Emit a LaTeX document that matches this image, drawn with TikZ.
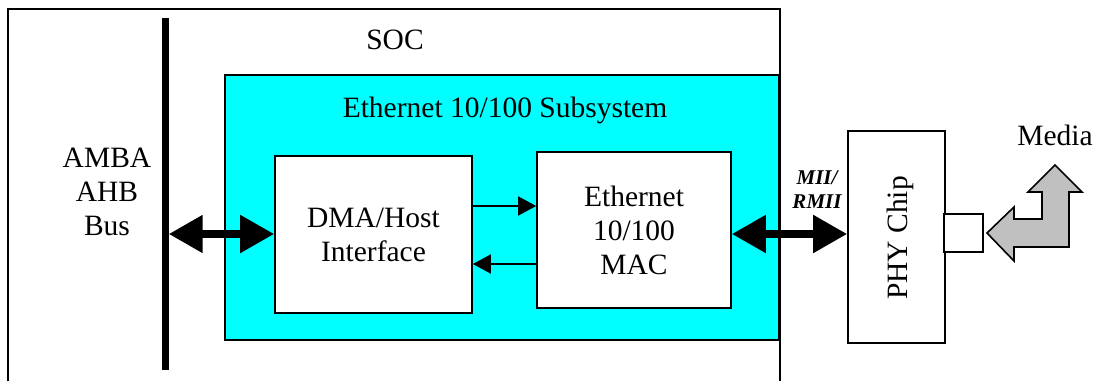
\documentclass[tikz,border=0pt]{standalone}
\usepackage{fontspec}
\setmainfont{Liberation Serif}
\usetikzlibrary{arrows.meta}
\definecolor{aqua}{RGB}{0,255,255}
\definecolor{mediagrey}{RGB}{192,192,192}
\begin{document}
\begin{tikzpicture}[x=1pt,y=-1pt,
  box/.style={draw=black,line width=1.6pt,fill=white,inner sep=0pt,align=center,font=\fontsize{29.5}{34}\selectfont},
  lbl/.style={inner sep=0pt,align=center,font=\fontsize{29.5}{34}\selectfont},
  bigarrow/.style={line width=8pt,{Triangle[length=34pt,width=36pt]}-{Triangle[length=34pt,width=36pt]}},
  smallarrow/.style={line width=1.6pt,-{Triangle[length=18pt,width=19pt]}}]
\useasboundingbox (0,0) rectangle (1097,381);
% SOC outline (open at the bottom)
\draw[line width=1.5pt] (8,381) -- (8,9) -- (780,9) -- (780,381);
\node[lbl] (soc) at (395,40) {SOC};
% cyan subsystem
\node[draw=black,line width=1.6pt,fill=aqua,minimum width=554pt,minimum height=265pt,inner sep=0pt] (sub) at (502,207.5) {};
\node[lbl] (subl) at (505,110) {Ethernet 10/100 Subsystem};
% bus
\node[fill=black,minimum width=7pt,minimum height=352pt,inner sep=0pt] (bus) at (165,194) {};
\node[lbl] (busl) at (107,192) {AMBA\\AHB\\Bus};
% blocks
\node[box,minimum width=197pt,minimum height=157pt] (dma) at (373.5,234.5) {DMA/Host\\Interface};
\node[box,minimum width=194pt,minimum height=156pt] (mac) at (634,230) {Ethernet\\10/100\\MAC};
\node[box,minimum width=97pt,minimum height=212pt] (phy) at (896.5,237) {};
\node[lbl,rotate=90] (phyl) at (900,238) {PHY Chip};
\node[box,minimum width=39pt,minimum height=38pt] (sq) at (963.5,233) {};
% connectors
\draw[bigarrow] (bus.east |- 0,234) -- (dma.west |- 0,234);
\draw[bigarrow] (mac.east |- 0,234) -- (phy.west |- 0,234);
\draw[smallarrow] (dma.east |- 0,206) -- (mac.west |- 0,206);
\draw[smallarrow] (mac.west |- 0,264) -- (dma.east |- 0,264);
\node[inner sep=0pt,align=center,font=\fontsize{21}{24}\selectfont\bfseries\itshape] (mii) at (817,190) {MII/\\RMII};
% media arrow
\draw[line width=1.6pt,fill=mediagrey,line join=miter]
  (987,233) -- (1014,207) -- (1014,219) -- (1042,219) -- (1042,192) -- (1028,192)
  -- (1055,165) -- (1082,192) -- (1069,192) -- (1069,247) -- (1014,247) -- (1014,261) -- cycle;
\node[lbl] (media) at (1055,135) {Media};
\end{tikzpicture}
\end{document}
